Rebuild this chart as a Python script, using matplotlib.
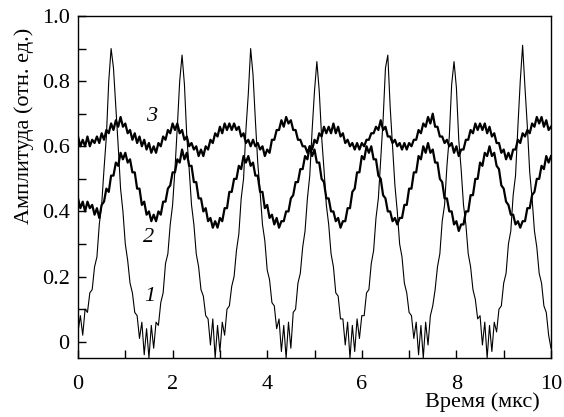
import numpy as np
import matplotlib
matplotlib.use('Agg')
import matplotlib.pyplot as plt
from matplotlib.ticker import MultipleLocator, FuncFormatter

plt.rcParams['font.family'] = ['Liberation Serif', 'DejaVu Serif']

# signal 1 (strongly modulated), sampled every 0.05 us
amp1 = [0.03, 0.08, 0.02, 0.10, 0.09, 0.15, 0.16, 0.23, 0.26, 0.36,
        0.42, 0.53, 0.63, 0.80, 0.90, 0.84, 0.72, 0.60, 0.47, 0.40,
        0.30, 0.25, 0.18, 0.15, 0.09, 0.08, 0.01, 0.06, -0.04, 0.04,
        -0.05, 0.05, -0.02, 0.06, 0.05, 0.12, 0.15, 0.24, 0.27, 0.36,
        0.42, 0.53, 0.66, 0.80, 0.88, 0.79, 0.63, 0.53, 0.42, 0.36,
        0.27, 0.23, 0.16, 0.14, 0.08, 0.07, -0.01, 0.07, -0.05, 0.05,
        -0.03, 0.06, 0.02, 0.10, 0.11, 0.17, 0.20, 0.28, 0.33, 0.44,
        0.50, 0.65, 0.76, 0.90, 0.82, 0.68, 0.55, 0.46, 0.36, 0.31,
        0.22, 0.19, 0.12, 0.11, 0.04, 0.07, -0.03, 0.05, -0.05, 0.06,
        -0.02, 0.09, 0.10, 0.18, 0.21, 0.29, 0.34, 0.44, 0.51, 0.65,
        0.77, 0.86, 0.77, 0.63, 0.53, 0.42, 0.36, 0.27, 0.23, 0.15,
        0.14, 0.07, 0.07, -0.01, 0.06, -0.05, 0.05, -0.03, 0.07, 0.01,
        0.08, 0.08, 0.15, 0.16, 0.24, 0.28, 0.38, 0.44, 0.56, 0.68,
        0.84, 0.88, 0.72, 0.60, 0.48, 0.40, 0.30, 0.26, 0.18, 0.15,
        0.09, 0.08, 0.01, 0.06, -0.04, 0.05, -0.05, 0.06, -0.01, 0.08,
        0.11, 0.16, 0.23, 0.27, 0.37, 0.42, 0.54, 0.63, 0.79, 0.86,
        0.78, 0.62, 0.53, 0.42, 0.36, 0.27, 0.23, 0.16, 0.13, 0.07,
        0.08, -0.01, 0.06, -0.05, 0.05, -0.03, 0.06, 0.03, 0.10, 0.11,
        0.18, 0.21, 0.30, 0.34, 0.45, 0.51, 0.66, 0.80, 0.91, 0.78,
        0.66, 0.52, 0.44, 0.34, 0.29, 0.21, 0.18, 0.11, 0.09, 0.02,
        -0.02]

amp2 = [0.44, 0.41, 0.43, 0.40, 0.43, 0.41, 0.42, 0.39, 0.41, 0.38,
        0.42, 0.43, 0.47, 0.46, 0.51, 0.51, 0.55, 0.54, 0.58, 0.56,
        0.58, 0.55, 0.56, 0.52, 0.52, 0.47, 0.47, 0.42, 0.43, 0.39,
        0.40, 0.37, 0.39, 0.37, 0.40, 0.39, 0.43, 0.43, 0.47, 0.48,
        0.52, 0.52, 0.56, 0.55, 0.59, 0.56, 0.58, 0.54, 0.54, 0.49,
        0.49, 0.44, 0.44, 0.40, 0.41, 0.37, 0.38, 0.35, 0.37, 0.35,
        0.38, 0.37, 0.41, 0.41, 0.46, 0.46, 0.50, 0.50, 0.54, 0.53,
        0.57, 0.55, 0.57, 0.54, 0.55, 0.51, 0.51, 0.46, 0.46, 0.41,
        0.42, 0.38, 0.39, 0.36, 0.38, 0.35, 0.37, 0.37, 0.40, 0.40,
        0.44, 0.45, 0.49, 0.49, 0.53, 0.53, 0.57, 0.56, 0.60, 0.57,
        0.59, 0.55, 0.55, 0.50, 0.49, 0.44, 0.44, 0.40, 0.40, 0.37,
        0.38, 0.35, 0.37, 0.37, 0.41, 0.41, 0.46, 0.47, 0.52, 0.52,
        0.57, 0.56, 0.60, 0.58, 0.60, 0.56, 0.56, 0.51, 0.50, 0.45,
        0.44, 0.40, 0.40, 0.37, 0.38, 0.36, 0.38, 0.38, 0.42, 0.42,
        0.47, 0.47, 0.52, 0.52, 0.57, 0.56, 0.60, 0.58, 0.61, 0.58,
        0.59, 0.55, 0.55, 0.50, 0.49, 0.44, 0.44, 0.40, 0.40, 0.36,
        0.37, 0.34, 0.36, 0.36, 0.40, 0.40, 0.45, 0.45, 0.50, 0.50,
        0.55, 0.54, 0.58, 0.57, 0.60, 0.57, 0.58, 0.54, 0.53, 0.48,
        0.47, 0.43, 0.42, 0.39, 0.39, 0.36, 0.37, 0.35, 0.37, 0.37,
        0.41, 0.41, 0.45, 0.46, 0.50, 0.50, 0.54, 0.53, 0.57, 0.55,
        0.57]

amp3 = [0.63, 0.60, 0.62, 0.60, 0.63, 0.60, 0.62, 0.61, 0.63, 0.61,
        0.64, 0.62, 0.65, 0.64, 0.67, 0.65, 0.68, 0.66, 0.69, 0.66,
        0.67, 0.64, 0.65, 0.62, 0.64, 0.61, 0.63, 0.60, 0.62, 0.59,
        0.61, 0.58, 0.60, 0.58, 0.61, 0.60, 0.63, 0.62, 0.65, 0.64,
        0.67, 0.65, 0.67, 0.64, 0.65, 0.62, 0.63, 0.60, 0.61, 0.59,
        0.60, 0.57, 0.59, 0.57, 0.60, 0.59, 0.62, 0.61, 0.64, 0.63,
        0.66, 0.64, 0.67, 0.65, 0.67, 0.65, 0.67, 0.65, 0.66, 0.63,
        0.64, 0.61, 0.62, 0.60, 0.62, 0.60, 0.61, 0.59, 0.60, 0.57,
        0.59, 0.58, 0.62, 0.62, 0.65, 0.65, 0.68, 0.66, 0.69, 0.67,
        0.68, 0.65, 0.65, 0.62, 0.62, 0.60, 0.60, 0.58, 0.60, 0.59,
        0.62, 0.61, 0.64, 0.63, 0.66, 0.64, 0.66, 0.64, 0.67, 0.64,
        0.66, 0.63, 0.64, 0.61, 0.62, 0.60, 0.61, 0.59, 0.61, 0.59,
        0.61, 0.60, 0.62, 0.62, 0.64, 0.64, 0.66, 0.65, 0.68, 0.65,
        0.66, 0.63, 0.63, 0.61, 0.62, 0.60, 0.61, 0.59, 0.61, 0.59,
        0.61, 0.60, 0.62, 0.62, 0.65, 0.64, 0.67, 0.66, 0.69, 0.67,
        0.70, 0.66, 0.66, 0.63, 0.63, 0.61, 0.62, 0.60, 0.61, 0.58,
        0.60, 0.57, 0.59, 0.59, 0.62, 0.62, 0.65, 0.64, 0.67, 0.65,
        0.67, 0.65, 0.67, 0.64, 0.66, 0.63, 0.64, 0.61, 0.61, 0.58,
        0.59, 0.56, 0.58, 0.56, 0.59, 0.59, 0.62, 0.61, 0.64, 0.63,
        0.65, 0.64, 0.67, 0.66, 0.69, 0.67, 0.69, 0.66, 0.68, 0.65,
        0.66]

t1 = np.linspace(0, 10, len(amp1))
t2 = np.linspace(0, 10, len(amp2))
t3 = np.linspace(0, 10, len(amp3))

fig = plt.figure(figsize=(5.64, 4.17), dpi=100)
ax = fig.add_axes([78 / 564, 59 / 417, 473 / 564, 342 / 417])

ax.plot(t1, amp1, color='black', lw=0.8)
ax.plot(t2, amp2, color='black', lw=1.6)
ax.plot(t3, amp3, color='black', lw=1.6)

ax.text(1.56, 0.69, '3', fontsize=16, style='italic', ha='center', va='center')
ax.text(1.5, 0.32, '2', fontsize=16, style='italic', ha='center', va='center')
ax.text(1.52, 0.14, '1', fontsize=16, style='italic', ha='center', va='center')

ax.set_xlim(0, 10)
ax.set_ylim(-0.05, 1.0)
ax.xaxis.set_major_locator(MultipleLocator(2))
ax.xaxis.set_minor_locator(MultipleLocator(1))
ax.yaxis.set_major_locator(MultipleLocator(0.2))
ax.yaxis.set_minor_locator(MultipleLocator(0.1))
ax.yaxis.set_major_formatter(FuncFormatter(lambda v, p: '0' if abs(v) < 1e-9 else f'{v:.1f}'))
ax.tick_params(which='both', direction='in', length=6, width=1, labelsize=16,
               top=False, right=False)
ax.tick_params(axis='x', pad=12)
ax.tick_params(axis='y', pad=6)
for s in ax.spines.values():
    s.set_linewidth(1)

fig.text(24 / 564, (417 - 126) / 417, 'Амплитуда (отн. ед.)', rotation=90,
         ha='center', va='center', fontsize=16)
fig.text(540 / 564, (417 - 402) / 417, 'Время (мкс)', ha='right', va='center',
         fontsize=16)

fig.savefig('out.png', dpi=100)
